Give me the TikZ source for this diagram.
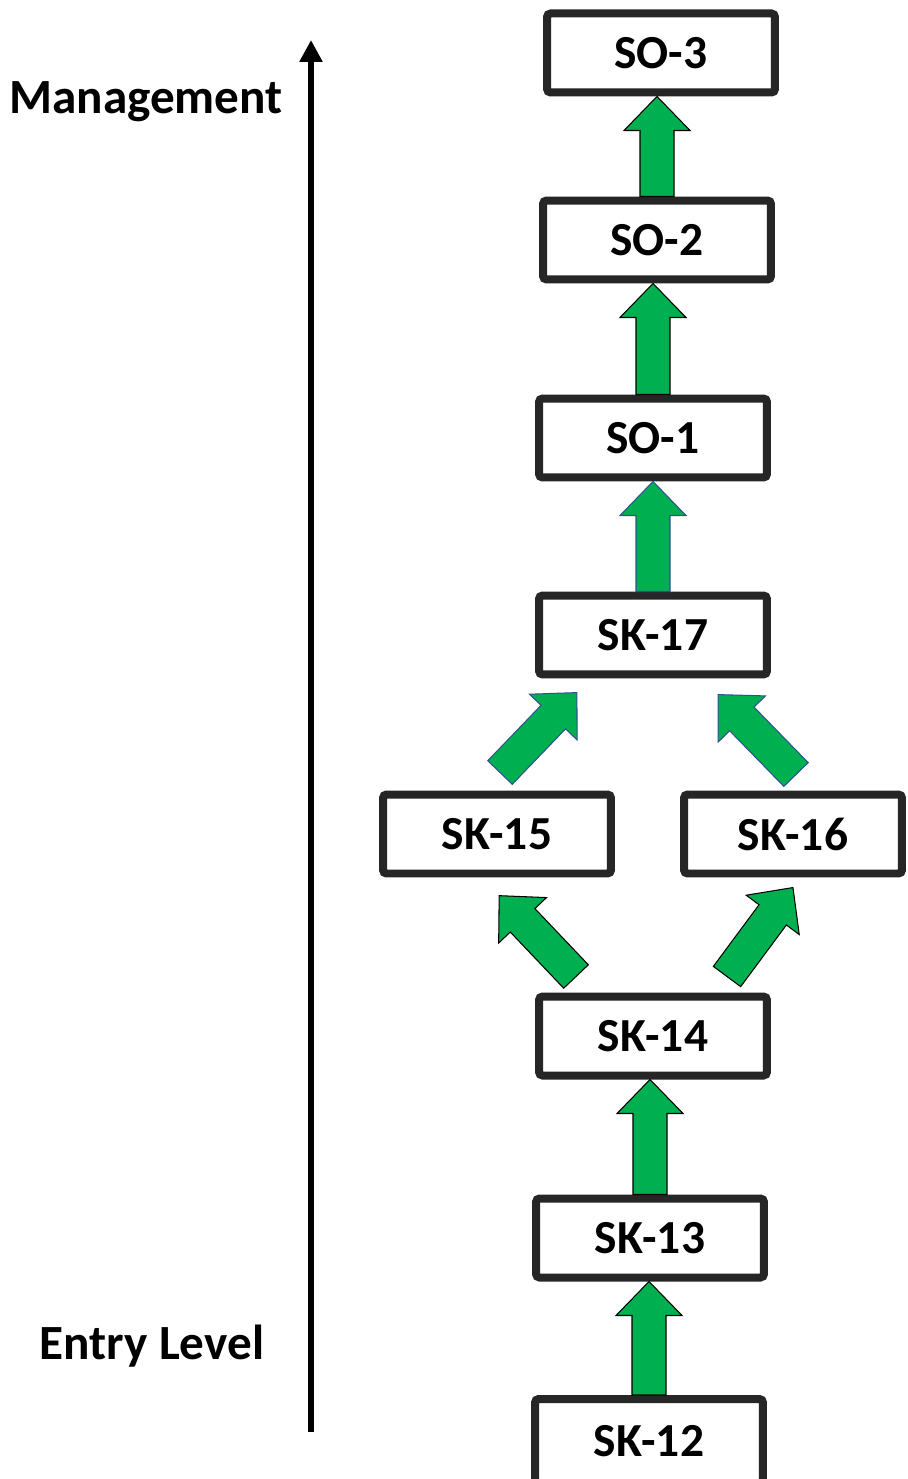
\documentclass[tikz,border=0pt]{standalone}
\usepackage{fontspec}
\setmainfont{Carlito}
\usetikzlibrary{arrows.meta,calc}
\definecolor{arrgreen}{RGB}{0,176,80}
\definecolor{boxline}{RGB}{38,38,38}
\definecolor{arrblue}{RGB}{47,82,143}
\tikzset{
  lvl/.style={draw=boxline, fill=white, line width=0.16cm, rounded corners=2pt,
    minimum width=4.56cm, minimum height=1.58cm, inner sep=0pt,
    font=\fontsize{27}{32}\selectfont\bfseries},
  sidelab/.style={font=\fontsize{28}{33}\selectfont\bfseries},
  blockarr/.style={fill=arrgreen, draw=black, line width=0.6pt, line join=miter},
}
\newcommand\barshaft{0.34cm}
\newcommand\barhead{0.66cm}
\newcommand\barheadlen{0.68cm}
\newcommand\blockarrow[3][]{%
  \draw[blockarr,#1] let \p1=(#2), \p2=(#3), \n1={atan2(\y2-\y1,\x2-\x1)},
      \n2={veclen(\x2-\x1,\y2-\y1)} in
    [shift={(\p1)}, rotate=\n1]
    (0pt,-\barshaft) -- ({\n2*1pt-\barheadlen},-\barshaft) -- ({\n2*1pt-\barheadlen},-\barhead)
    -- ({\n2*1pt},0pt) -- ({\n2*1pt-\barheadlen},\barhead) -- ({\n2*1pt-\barheadlen},\barshaft)
    -- (0pt,\barshaft) -- cycle;}
\begin{document}
\begin{tikzpicture}[x=0.02cm, y=-0.02cm]
\useasboundingbox (0,0) rectangle (907,1479);

\coordinate (axbot) at (311,1432);
\coordinate (axtop) at (311,40);
\draw[line width=0.12cm, -{Triangle[width=0.44cm,length=0.44cm]}] (axbot) -- (axtop);
\node[sidelab] (mgmt) at (146,102) {Management};
\node[sidelab] (entry) at (152,1346) {Entry Level};

\foreach \nm/\x/\y/\lab in {s13/650/1238/SK-13, s14/653/1036/SK-14,
  s17/653/635/SK-17, o1/653/438/SO-1, o2/657/240/SO-2, o3/661/53/SO-3}
{
    \node[lvl] (\nm) at (\x,\y) {\lab};
}
\node[lvl, minimum height=1.68cm] (s12) at (649,1441) {SK-12};
\node[lvl] (s15) at (497,834) {SK-15};
\node[lvl, minimum width=4.36cm] (s16) at (793,834) {SK-16};

\foreach \a/\b in {s12/s13, s13/s14, o1/o2, o2/o3}
{
    \blockarrow{\a.north}{\a.north |- \b.south}
}
\blockarrow[draw=arrblue]{s17.north}{s17.north |- o1.south}
\blockarrow{$(s14.north)+(-77,-16)$}{$(s15.south)+(2,18)$}
\blockarrow{$(s14.north)+(74,-16)$}{$(s16.south)+(0,10)$}
\blockarrow[draw=arrblue]{$(s15.north)+(3,-18)$}{$(s17.south)+(-76,14)$}
\blockarrow[draw=arrblue]{$(s16.north)+(3,-16)$}{$(s17.south)+(65,16)$}
\end{tikzpicture}
\end{document}
